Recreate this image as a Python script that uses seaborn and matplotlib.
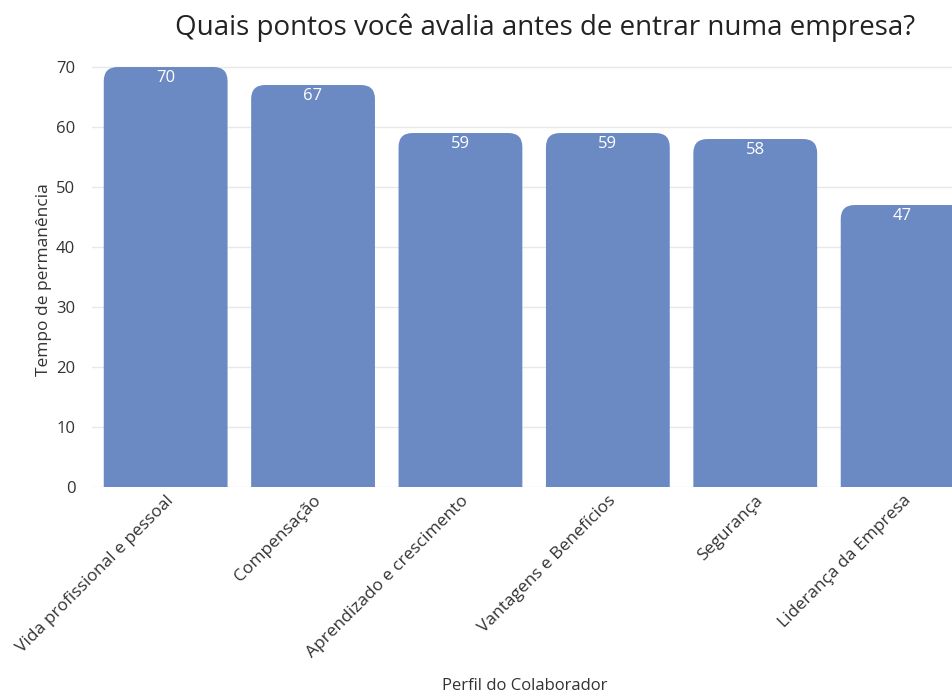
import matplotlib
matplotlib.use("Agg")
import matplotlib.pyplot as plt
import seaborn as sns
import pandas as pd
from matplotlib.patches import FancyBboxPatch

categorias = ["Vida profissional e pessoal", "Compensação", "Aprendizado e crescimento",
              "Vantagens e Benefícios", "Segurança", "Liderança da Empresa"]
valores = [70, 67, 59, 59, 58, 47]

df = pd.DataFrame({"perfil": categorias, "tempo": valores})

sns.set_style("white")
plt.rcParams['font.family'] = ['Open Sans', 'DejaVu Sans']

cor = '#6b8ac4'
texto = '#333333'
fig = plt.figure(figsize=(9.53, 6.99), dpi=100)
ax = fig.add_axes([0.0965, 0.3033, 0.928, 0.6094])

sns.barplot(data=df, x="perfil", y="tempo", color=cor, width=0.84, ax=ax, zorder=2)

ax.set_ylim(0, 71)
ax.set_xlim(-0.5, len(categorias) - 0.5)

# rounded tops: swap each bar for a FancyBboxPatch
px_x = 1 / 147.3
px_y = 1 / 6.0
raio = 14
for p in list(ax.patches):
    x0, w, h = p.get_x(), p.get_width(), p.get_height()
    p.remove()
    nova = FancyBboxPatch((x0, -10), w, h + 10,
                          boxstyle=f"round,pad=0,rounding_size={raio * px_x}",
                          mutation_aspect=px_y / px_x,
                          facecolor=cor, edgecolor='none', zorder=2)
    ax.add_patch(nova)
    ax.text(x0 + w / 2, h - 1.9, f"{h:.0f}", ha='center', va='center',
            color='white', fontsize=12, fontweight='medium')

ax.set_yticks(range(0, 71, 10))
ax.yaxis.grid(True, color='#e8e8e8', linewidth=1, zorder=0)
ax.set_axisbelow(True)
for s in ax.spines.values():
    s.set_visible(False)

ax.tick_params(axis='y', labelsize=12, labelcolor=texto, pad=12, length=0)
ax.tick_params(axis='x', labelsize=12.5, labelcolor=texto, pad=4, length=0)
plt.setp(ax.get_xticklabels(), rotation=45, ha='right', rotation_mode='anchor')

ax.set_ylabel("Tempo de permanência", fontsize=12.5, color=texto)
ax.yaxis.set_label_coords(-0.045, 0.486)
ax.set_xlabel("Perfil do Colaborador", fontsize=12, color=texto)
ax.xaxis.set_label_coords(0.489, -0.448)
fig.text(545 / 953, 1 - 28 / 699, "Quais pontos você avalia antes de entrar numa empresa?",
         fontsize=20, color='#222222', ha='center', va='center')

fig.savefig("out.png", dpi=100)
